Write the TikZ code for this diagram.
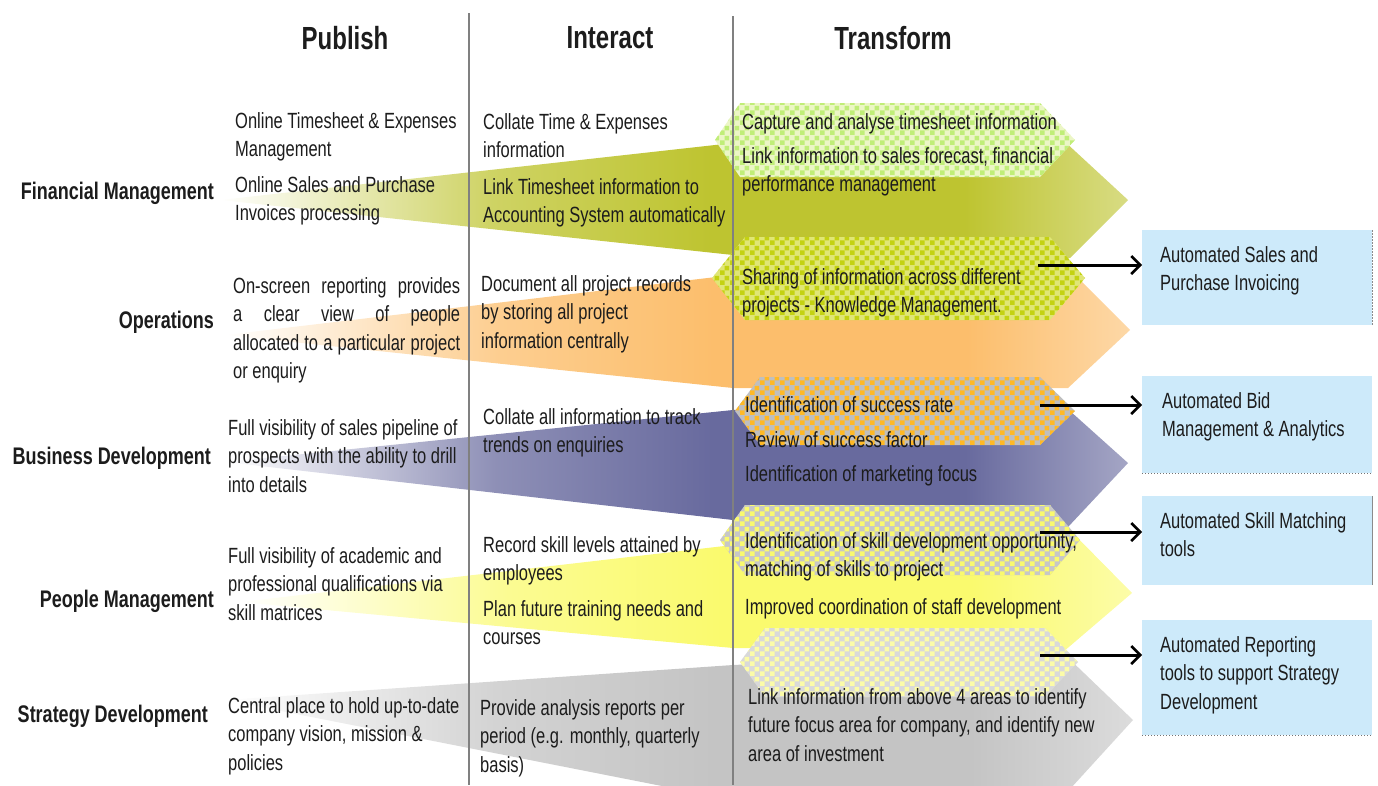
\documentclass[tikz,border=0pt]{standalone}
\usepackage{fontspec}
\setmainfont[FakeStretch=0.75]{Liberation Sans}
\usetikzlibrary{arrows.meta,patterns.meta}

\definecolor{bandgreen}{RGB}{190,196,48}
\definecolor{bandorange}{RGB}{252,190,108}
\definecolor{bandpurple}{RGB}{104,106,158}
\definecolor{bandyellow}{RGB}{250,250,110}
\definecolor{bandgray}{RGB}{196,196,196}
\definecolor{boxblue}{RGB}{205,234,250}
\definecolor{inkgray}{RGB}{28,28,28}
\definecolor{chkgreenA}{RGB}{236,246,198}
\definecolor{chkgreenB}{RGB}{192,238,120}
\definecolor{chkoliveA}{RGB}{224,230,118}
\definecolor{chkoliveB}{RGB}{196,210,18}
\colorlet{bandc}{bandgreen}

% fade from white on the left into the band colour
\pgfdeclarehorizontalshading[bandc]{bandfade}{100bp}{
  color(0bp)=(white); color(25bp)=(white);
  color(40bp)=(bandc!75!white); color(52bp)=(bandc);
  color(66bp)=(bandc); color(75bp)=(bandc!60!white);
  color(100bp)=(bandc!60!white)}

% checkered fill for the highlight chevrons
\tikzdeclarepattern{
  name=checks,
  type=uncolored,
  bounding box={(0pt,0pt) and (10pt,10pt)},
  tile size={(10pt,10pt)},
  code={
    \fill (0pt,0pt) rectangle (5pt,5pt);
    \fill (5pt,5pt) rectangle (10pt,10pt);
  }
}

\tikzset{
  colhead/.style={inner sep=0pt, font=\fontsize{32}{36}\selectfont\bfseries, text=inkgray},
  rowlabel/.style={anchor=east, inner sep=0pt, font=\fontsize{24}{28}\selectfont\bfseries, text=inkgray},
  txt/.style={anchor=north west, inner sep=0pt, align=left, font=\fontsize{22}{28.5}\selectfont, text=inkgray},
  outbox/.style={anchor=north west, inner sep=0pt, fill=boxblue, minimum width=230pt},
  band/.style={/utils/exec={\colorlet{bandc}{#1}}, shading=bandfade},
  chk/.style 2 args={preaction={fill=#1}, pattern=checks, pattern color=#2},
  divider/.style={draw=black!50, line width=1.2pt},
  arr/.style={line width=3pt, -{Straight Barb[length=9pt,width=18pt,line width=2.5pt]}}
}

\begin{document}
\begin{tikzpicture}[x=1pt, y=-1pt]
	\useasboundingbox (0,0) rectangle (1378,785);
	\clip (0,0) rectangle (1378,785);

	% bands
	\shade[band=bandgreen] (220,200) -- (733,143) -- (1063,140) -- (1128,200) -- (1070,258) -- (733,255) -- cycle;
	\shade[band=bandorange] (225,335) -- (733,275) -- (1075,275) -- (1130,330) -- (1068,388) -- (733,388) -- cycle;
	\shade[band=bandpurple] (225,462) -- (733,410) -- (1060,402) -- (1128,463) -- (1068,527) -- (733,520) -- cycle;
	\shade[band=bandyellow] (240,602) -- (733,545) -- (1055,515) -- (1132,593) -- (1063,652) -- (733,648) -- cycle;
	\shade[band=bandgray] (225,700) -- (733,665) -- (1060,650) -- (1133,720) -- (1060,800) -- (733,800) -- cycle;

	% checkered chevrons
	\fill[chk={chkgreenA}{chkgreenB}] (715,140) -- (740,103) -- (1040,103) -- (1075,140) -- (1040,177) -- (740,177) -- cycle;
	\fill[chk={chkoliveA}{chkoliveB}] (712,278) -- (745,237) -- (1050,237) -- (1085,278) -- (1050,320) -- (745,320) -- cycle;
	\fill[chk={black!25}{orange!65!yellow!85!white}] (735,411) -- (760,377) -- (1040,377) -- (1075,411) -- (1040,445) -- (760,445) -- cycle;
	\fill[chk={black!22}{bandyellow}] (720,540) -- (745,505) -- (1050,505) -- (1080,540) -- (1050,575) -- (745,575) -- cycle;
	\fill[chk={black!15}{bandyellow!60!white}] (740,662) -- (765,628) -- (1045,628) -- (1078,662) -- (1045,697) -- (765,697) -- cycle;

	% column dividers
	\draw[divider] (469,13) -- (469,785);
	\draw[divider] (733,16) -- (733,785);

	% column heads
	\node[colhead] (publish) at (345,38) {Publish};
	\node[colhead] (interact) at (610,38) {Interact};
	\node[colhead] (transform) at (893,38) {Transform};

	% row labels
	\node[rowlabel] (fin) at (214,193) {Financial Management};
	\node[rowlabel] (ops) at (214,322) {Operations};
	\node[rowlabel] (bus) at (211,458) {Business Development};
	\node[rowlabel] (ppl) at (214,601) {People Management};
	\node[rowlabel] (str) at (208,716) {Strategy Development};

	% publish
	\node[txt] (p1) at (235,112) {Online Timesheet \& Expenses\\Management};
	\node[txt] (p2) at (235,176) {Online Sales and Purchase\\Invoices processing};
	\node[txt] (p3) at (233,277) {\makebox[227pt][s]{On-screen reporting provides}\\\makebox[227pt][s]{a clear view of people}\\\makebox[227pt][s]{allocated to a particular project}\\or enquiry};
	\node[txt] (p4) at (228,419) {Full visibility of sales pipeline of\\prospects with the ability to drill\\into details};
	\node[txt] (p5) at (228,547) {Full visibility of academic and\\professional qualifications via\\skill matrices};
	\node[txt] (p6) at (228,697) {Central place to hold up-to-date\\company vision, mission \&\\policies};

	% interact
	\node[txt] (i1) at (483,113) {Collate Time \& Expenses\\information};
	\node[txt] (i2) at (483,178) {Link Timesheet information to\\Accounting System automatically};
	\node[txt] (i3) at (481,275) {Document all project records\\by storing all project\\information centrally};
	\node[txt] (i4) at (483,408) {Collate all information to track\\trends on enquiries};
	\node[txt] (i5) at (483,536) {Record skill levels attained by\\employees};
	\node[txt] (i6) at (483,600) {Plan future training needs and\\courses};
	\node[txt] (i7) at (480,699) {Provide analysis reports per\\period (e.g. monthly, quarterly\\basis)};

	% transform
	\node[txt] (t1) at (742,113) {Capture and analyse timesheet information};
	\node[txt] (t2) at (742,147) {Link information to sales forecast, financial\\performance management};
	\node[txt] (t3) at (742,268) {Sharing of information across different\\projects - Knowledge Management.};
	\node[txt] (t4) at (745,396) {Identification of success rate};
	\node[txt] (t5) at (745,431) {Review of success factor};
	\node[txt] (t6) at (745,465) {Identification of marketing focus};
	\node[txt] (t7) at (745,532) {Identification of skill development opportunity,\\matching of skills to project};
	\node[txt] (t8) at (745,598) {Improved coordination of staff development};
	\node[txt] (t9) at (748,688) {Link information from above 4 areas to identify\\future focus area for company, and identify new\\area of investment};

	% outcome boxes
	\node[outbox, minimum height=95pt] (b1) at (1142,230) {};
	\node[outbox, minimum height=97pt] (b2) at (1142,376) {};
	\node[outbox, minimum height=89pt] (b3) at (1142,496) {};
	\node[outbox, minimum height=115pt] (b4) at (1142,620) {};
	\draw[black!45, dash pattern=on 2pt off 1pt] (b1.north east) -- (b1.south east);
	\draw[black!55, dotted, line width=1pt] (b2.south west) -- (b2.south east);
	\draw[black!45, line width=1pt] (b3.north east) -- (b3.south east);
	\draw[black!55, dotted, line width=1pt] (b4.south west) -- (b4.south east);
	\node[txt] (b1t) at (1160,246) {Automated Sales and\\Purchase Invoicing};
	\node[txt] (b2t) at (1162,392) {Automated Bid\\Management \& Analytics};
	\node[txt] (b3t) at (1160,512) {Automated Skill Matching\\tools};
	\node[txt] (b4t) at (1160,636) {Automated Reporting\\tools to support Strategy\\Development};

	% arrows to boxes
	\coordinate (a1) at (1038,265);
	\coordinate (a2) at (1040,405);
	\coordinate (a3) at (1040,532);
	\coordinate (a4) at (1040,655);
	\draw[arr] (a1) -- (a1 -| b1.west);
	\draw[arr] (a2) -- (a2 -| b2.west);
	\draw[arr] (a3) -- (a3 -| b3.west);
	\draw[arr] (a4) -- (a4 -| b4.west);
\end{tikzpicture}
\end{document}
